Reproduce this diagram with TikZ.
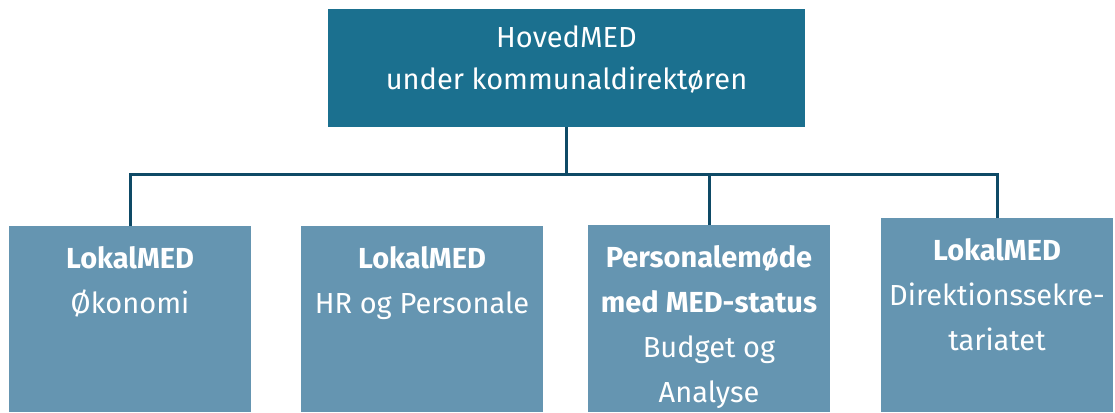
\documentclass[tikz,border=0pt]{standalone}
\usepackage{fontspec}
\setmainfont{Fira Sans}
\usetikzlibrary{positioning}

\definecolor{topblue}{HTML}{1B708F}
\definecolor{lowblue}{HTML}{6595B1}
\definecolor{linkblue}{HTML}{0E4A66}

\begin{document}
\begin{tikzpicture}[x=1pt, y=1pt,
    topbox/.style = {fill=topblue, inner sep=0pt, minimum width=477pt, minimum height=118pt},
    lowbox/.style = {fill=lowblue, inner sep=0pt, minimum width=242pt, anchor=south},
    boxtext/.style = {text=white, align=center, inner sep=0pt, font=\fontsize{29}{45}\selectfont},
    link/.style = {draw=linkblue, line width=3pt}]
    \useasboundingbox (0,0) rectangle (1115,412);
    \node[topbox] (hoved) at (566.5,344) {};
    \node[boxtext, font=\fontsize{29}{42}\selectfont, below=17pt of hoved.north] (hovedtxt) {HovedMED\\under kommunaldirektøren};
    \node[lowbox, minimum height=186pt] (oko) at (130,0) {};
    \node[lowbox, minimum height=186pt] (hr) at (422,0) {};
    \node[lowbox, minimum height=187pt] (budget) at (709,0) {};
    \node[lowbox, minimum height=194pt, minimum width=232pt] (sekr) at (997,0) {};
    \node[boxtext, below=21pt of oko.north] (okotxt) {\textbf{LokalMED}\\Økonomi};
    \node[boxtext, below=21pt of hr.north] (hrtxt) {\textbf{LokalMED}\\HR og Personale};
    \node[boxtext, below=21pt of budget.north] (budgettxt) {\textbf{Personalemøde}\\\textbf{med MED-status}\\Budget og\\Analyse};
    \node[boxtext, below=21pt of sekr.north] (sekrtxt) {\textbf{LokalMED}\\Direktionssekre-\\tariatet};
    \coordinate (bus) at (0,237);
    \draw[link] (oko.north) |- (hoved.south |- bus) -| (sekr.north);
    \draw[link] (hoved.south) -- (hoved.south |- bus);
    \draw[link] (budget.north) -- (budget.north |- bus);
\end{tikzpicture}
\end{document}
